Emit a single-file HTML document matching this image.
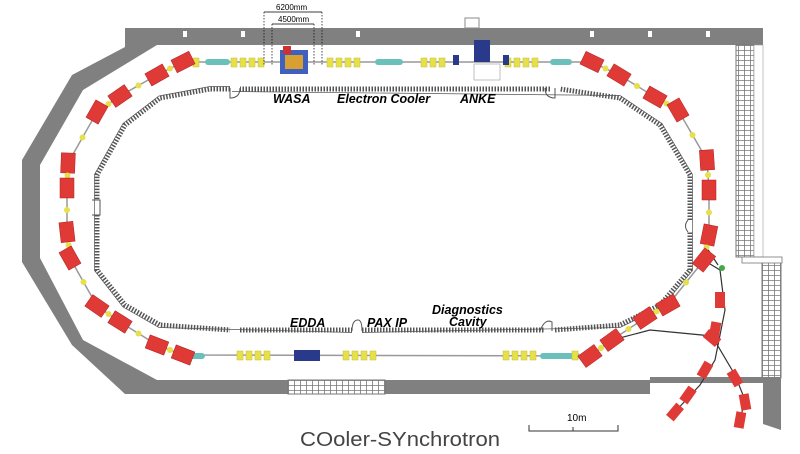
<!DOCTYPE html>
<html><head><meta charset="utf-8"><style>
html,body{margin:0;padding:0;background:#fff;}
svg{display:block;font-family:"Liberation Sans",sans-serif;}
</style></head><body>
<svg id="c" width="800" height="454" viewBox="0 0 800 454">
<defs>
<pattern id="brick" width="6" height="5" patternUnits="userSpaceOnUse"><rect width="6" height="5" fill="#fff"/><path d="M0 0.5H6M0.5 0V5" stroke="#777" stroke-width="0.8"/></pattern>
</defs>
<path fill="#808080" d="M125 28 H763 V45 H157 L83 90 L40 165 V258 L83 340 L157 380 H650 V394 H125 L72 345 L22 262 V160 L72 75 L125 47 Z"/>
<rect x="288" y="380" width="97" height="14" fill="url(#brick)" stroke="#777"/>
<rect x="736" y="45" width="18" height="212" fill="url(#brick)" stroke="#777"/>
<rect x="754" y="45" width="9" height="212" fill="#fff" stroke="#999" stroke-width="0.6"/>
<rect x="762" y="260" width="19" height="118" fill="url(#brick)" stroke="#777"/>
<rect x="742" y="257" width="40" height="6" fill="#fff" stroke="#777" stroke-width="0.8"/>
<path fill="#808080" d="M650 377 H781 V430 L763 424 V383 H650 Z"/>
<g fill="#fff"><rect x="183" y="31" width="4" height="6"/><rect x="241" y="31" width="4" height="6"/><rect x="356" y="31" width="4" height="6"/><rect x="590" y="31" width="4" height="6"/><rect x="648" y="31" width="4" height="6"/><rect x="706" y="31" width="4" height="6"/></g>
<rect x="465" y="18" width="14" height="10" fill="#fff" stroke="#888"/>
<path fill="none" stroke="#555" stroke-width="5" stroke-dasharray="1.5 1.5" d="M230 89 L210 89 L160 98 L125 125 L97 175 V200 M97 215 V270 L125 305 L160 325 L230 330 M240 330 H352 M362 330 H545 M555 330 L620 325 L660 305 L690 270 V232 M690 220 V175 L660 125 L620 98 L560 89 M550 89 H240"/>
<path fill="none" stroke="#555" stroke-width="0.7" d="M230 86.5 L210 86.5 L159 96 L123 123.5 L94.5 174.5 V270.5 L123 307 L159 327.5 L352 332.5 M362 332.5 L620 327.5 L662 307 L692.5 270.5 V174.5 L662 123.5 L620 95.5 L232 91.5"/>
<path fill="none" stroke="#555" stroke-width="1" d="M230 88 V98 Q240 98 240 88 M545 88 Q545 98 555 98 V88 M352 331 Q352 320 358 320 Q362 320 362 331 M540 331 Q545 318 552 322 V331 M92 200 H100 V215 H92 M688 220 Q683 226 688 232"/>
<g id="beam"></g>
<text x="273" y="103" font-size="12.5" font-weight="bold" font-style="italic">WASA</text>
<text x="337" y="103" font-size="12.5" font-weight="bold" font-style="italic">Electron Cooler</text>
<text x="460" y="103" font-size="12.5" font-weight="bold" font-style="italic">ANKE</text>
<text x="290" y="327" font-size="12.5" font-weight="bold" font-style="italic">EDDA</text>
<text x="367" y="327" font-size="12.5" font-weight="bold" font-style="italic">PAX IP</text>
<text x="432" y="314" font-size="12.5" font-weight="bold" font-style="italic">Diagnostics</text>
<text x="449" y="326" font-size="12.5" font-weight="bold" font-style="italic">Cavity</text>
<g stroke="#000" stroke-width="0.7" fill="none">
<path d="M264 12 H322 M272 24 H314"/>
<path d="M264 12 V65 M322 12 V65 M272 24 V65 M314 24 V65" stroke-dasharray="1.5 1.5"/>
</g>
<text x="276" y="10" font-size="8">6200mm</text>
<text x="278" y="22" font-size="8">4500mm</text>
<path d="M529 425 V431 H618 V425 M573 431 V427" stroke="#333" fill="none" stroke-width="1"/>
<text x="567" y="421" font-size="10">10m</text>
<text x="300" y="446" font-size="20" fill="#444" textLength="200" lengthAdjust="spacingAndGlyphs">COoler-SYnchrotron</text>
</svg>
<script>
const dipolesX=[183,157,120,97,68,67,67,70,97,120,157,183,592,619,655,678,707,709,709,704,668,645,612,590];
const dipolesY=[62,75,96,112,163,188,232,258,306,322,345,355,62,75,97,110,160,190,235,260,305,318,340,356];
const quadsTopX=[196,234,243,252,261,330,339,348,357,424,433,442,508,517,526,535];
const quadsBotX=[240,249,258,267,346,355,364,373,506,515,524,533,575];
const teal=[[205,62,25],[375,62,28],[550,62,22],[183,356,22],[540,356,40]];
const NS="http://www.w3.org/2000/svg";
const g=document.getElementById('beam');
function mk(t,a){const e=document.createElementNS(NS,t);for(const k in a)e.setAttribute(k,a[k]);g.appendChild(e);return e;}
let d="M"+dipolesX[0]+" "+dipolesY[0];
for(let i=1;i<12;i++)d+=" L"+dipolesX[i]+" "+dipolesY[i];
d+=" L"+dipolesX[23]+" "+dipolesY[23];
for(let i=22;i>=12;i--)d+=" L"+dipolesX[i]+" "+dipolesY[i];
d+=" Z";
const ring=mk('path',{d:d,fill:'none',stroke:'#999','stroke-width':1.5});


const ext=mk('path',{d:'M612 340 L650 330 L712 336 L735 375 L745 400 L740 420 M700 258 L720 270 L725 310 L715 360 L700 385 L672 415 M705 245 L718 265',fill:'none',stroke:'#333','stroke-width':1.2});


teal.forEach(t=>{const r=mk('rect',{x:t[0],y:t[1]-3,width:t[2],height:6,rx:3,fill:'#6cc0bc'});

});
quadsTopX.forEach(x=>{const r=mk('rect',{x:x-3,y:58,width:6,height:9,fill:'#e6e04a',stroke:'#c8c030','stroke-width':0.5});

});
quadsBotX.forEach(x=>{const r=mk('rect',{x:x-3,y:351,width:6,height:9,fill:'#e6e04a',stroke:'#c8c030','stroke-width':0.5});

});
for(let i=0;i<24;i++){
  const j=(i%12===11)?i-1:i+1;
  const a=Math.atan2(dipolesY[j]-dipolesY[i],dipolesX[j]-dipolesX[i])*180/Math.PI;
  const r=mk('rect',{x:-10,y:-7,width:20,height:14,fill:'#e03a36',stroke:'#b02020','stroke-width':0.5,transform:`translate(${dipolesX[i]},${dipolesY[i]}) rotate(${a})`});
  
  
  const q=mk('circle',{cx:(dipolesX[i]+dipolesX[j])/2,cy:(dipolesY[i]+dipolesY[j])/2,r:3,fill:'#e6e04a'});
  
  
}
[[720,300,90],[715,330,100],[705,370,120],[688,395,125],[675,412,130],[712,338,40],[735,378,60],[745,402,80],[740,420,100]].forEach(p=>{
  const r=mk('rect',{x:-8,y:-5,width:16,height:10,fill:'#e03a36',transform:`translate(${p[0]},${p[1]}) rotate(${p[2]})`});
  
  
});
const gd=mk('circle',{cx:722,cy:268,r:3,fill:'#4a4'});
const w=mk('rect',{x:280,y:50,width:28,height:24,fill:'#4060c0'});
const w2=mk('rect',{x:285,y:55,width:18,height:14,fill:'#d8a030'});
const w3=mk('rect',{x:283,y:46,width:8,height:8,fill:'#d03030'});
const ak=mk('rect',{x:474,y:40,width:16,height:22,fill:'#2a3a8a'});
const ab=mk('rect',{x:474,y:64,width:26,height:16,fill:'#fff',stroke:'#999','stroke-width':0.6});
const ed=mk('rect',{x:294,y:350,width:26,height:11,fill:'#2a3a8a'});
[[456,60],[506,60]].forEach(p=>{const r=mk('rect',{x:p[0]-3,y:p[1]-5,width:6,height:10,fill:'#2a3a8a'});

});
</script>
</body></html>
